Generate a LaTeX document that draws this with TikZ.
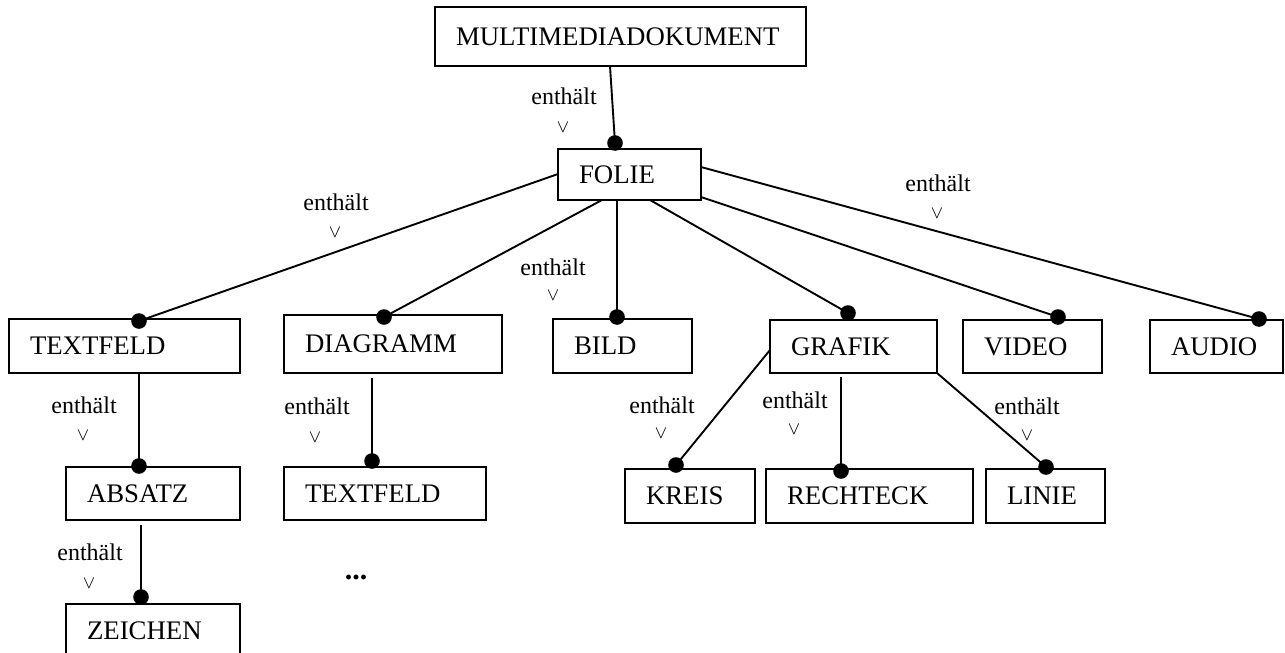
\documentclass[tikz,border=0pt]{standalone}
\usepackage{fontspec}
\setmainfont{Liberation Serif}
\begin{document}
\begin{tikzpicture}[x=0.5pt,y=-0.5pt,
  box/.style={draw,line width=0.9pt,rectangle,anchor=north west,outer sep=0pt,inner ysep=0pt,
    inner xsep=10.5pt,align=left,font=\fontsize{13.4}{15}\selectfont},
  conn/.style={line width=0.95pt},
  lbl/.style={inner sep=0pt,font=\fontsize{12}{14}\selectfont},
  veelbl/.style={inner sep=0pt,font=\fontsize{9}{10}\selectfont}]
\useasboundingbox (0,0) rectangle (1285,653);
% box: name, x1, y1, x2, y2, text
\newcommand{\bx}[6]{%
  \pgfmathsetmacro{\bw}{(#4-#2)*0.5}%
  \pgfmathsetmacro{\bh}{(#5-#3)*0.5}%
  \pgfmathsetmacro{\tw}{(#4-#2)*0.5-21}%
  \node[box,minimum width=\bw pt,minimum height=\bh pt,text width=\tw pt] (#1) at (#2,#3) {#6};}
% connector: parent, dx, dy, child, dx, dy
\newcommand{\con}[6]{%
  \draw[conn] ([shift={(#2,#3)}]#1.north west) -- ([shift={(#5,#6)}]#4.north west);
  \fill ([shift={(#5,#6)}]#4.north west) circle (3.9pt);}
% label: name, x, y, x2, y2
\newcommand{\lab}[5]{%
  \node[lbl] (#1) at (#2,#3) {enthält};
  \node[veelbl] (#1v) at (#4,#5) {$\vee$};}

\bx{multi}{435}{7}{806}{66}{MULTIMEDIADOKUMENT}
\bx{folie}{558}{149}{701}{200}{FOLIE}
\bx{tfa}{9}{319}{240}{373}{TEXTFELD}
\bx{diag}{284}{315}{502}{373}{DIAGRAMM}
\bx{bild}{553}{319}{692}{373}{BILD}
\bx{grafik}{770}{320}{937}{373}{GRAFIK}
\bx{video}{963}{320}{1102}{373}{VIDEO}
\bx{audio}{1150}{320}{1283}{373}{AUDIO}
\bx{absatz}{66}{467}{240}{520}{ABSATZ}
\bx{tfb}{284}{467}{486}{520}{TEXTFELD}
\bx{zeichen}{66}{604}{240}{658}{ZEICHEN}
\bx{kreis}{625}{469}{755}{523}{KREIS}
\bx{rechteck}{766}{469}{973}{523}{RECHTECK}
\bx{linie}{986}{469}{1105}{523}{LINIE}

\con{multi}{175}{59}{folie}{57}{-6}
\con{folie}{0}{25}{tfa}{130}{2}
\con{folie}{44}{51}{diag}{100}{2}
\con{folie}{59}{51}{bild}{64}{-2}
\con{folie}{92}{51}{grafik}{78}{-7}
\con{folie}{143}{48}{video}{95}{-3}
\con{folie}{143}{18}{audio}{109}{-1}
\con{tfa}{130}{54}{absatz}{73}{-1}
\con{diag}{88}{63}{tfb}{88}{-6}
\con{absatz}{75}{58}{zeichen}{75}{-7}
\con{grafik}{0}{30}{kreis}{51}{-4}
\con{grafik}{71}{57}{rechteck}{75}{2}
\con{grafik}{167}{53}{linie}{60}{-2}

\lab{la}{564}{96}{563}{127}
\lab{lb}{336}{202}{335}{232}
\lab{lc}{553}{267}{553}{295}
\lab{ld}{938}{183}{937}{213}
\lab{le}{84}{405}{83}{435}
\lab{lf}{317}{406}{315}{437}
\lab{lg}{90}{552}{89}{583}
\lab{lh}{662}{405}{661}{433}
\lab{li}{795}{400}{794}{429}
\lab{lj}{1027}{406}{1027}{435}

\node[inner sep=0pt,font=\fontsize{15}{17}\selectfont\bfseries] (dots) at (356,577) {...};
\end{tikzpicture}
\end{document}
